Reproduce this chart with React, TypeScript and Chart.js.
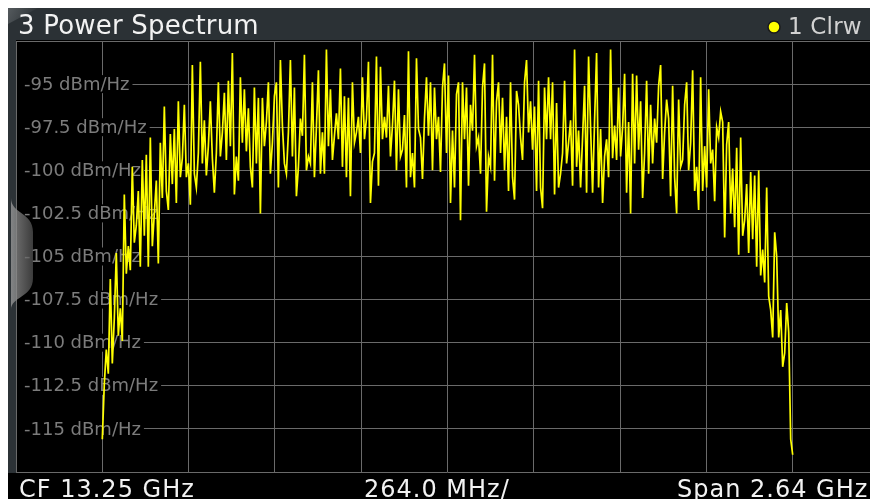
import React, { useEffect, useRef } from "react";
import { Chart, registerables } from "chart.js";

Chart.register(...registerables);

const TITLE = "3 Power Spectrum";
const TRACE_LABEL = "1 Clrw";
const FOOTER_LEFT = "CF 13.25 GHz";
const FOOTER_MID = "264.0 MHz/";
const FOOTER_RIGHT = "Span 2.64 GHz";

// frequency grid (GHz): CF 13.25, 264 MHz/div, span 2.64 GHz
const X_MIN = 11.93;
const X_MAX = 14.57;
const X_TICKS = [11.93, 12.194, 12.458, 12.722, 12.986, 13.25, 13.514, 13.778, 14.042, 14.306, 14.57];

// level grid (dBm/Hz)
const Y_MIN = -117.5;
const Y_MAX = -92.5;
const Y_TICKS = [-92.5, -95, -97.5, -100, -102.5, -105, -107.5, -110, -112.5, -115, -117.5];
const Y_LABEL_VALUES = [-95, -97.5, -100, -102.5, -105, -107.5, -110, -112.5, -115];
const Y_LABELS = [
  "-95 dBm/Hz",
  "-97.5 dBm/Hz",
  "-100 dBm/Hz",
  "-102.5 dBm/Hz",
  "-105 dBm/Hz",
  "-107.5 dBm/Hz",
  "-110 dBm/Hz",
  "-112.5 dBm/Hz",
  "-115 dBm/Hz",
];

// visible trace sweep points
const TRACE_START_GHZ = 12.194;
const TRACE_STEP_GHZ = 0.0061217;
const LEVELS = [
  -115.6, -112.4, -110.4, -111.8, -106.3, -111.2, -108.6, -104.8, -109.6, -108.0,
  -109.9, -101.4, -106.0, -104.4, -105.8, -99.8, -104.2, -103.2, -101.2, -105.6,
  -99.4, -103.8, -99.1, -105.6, -98.1, -104.4, -102.5, -100.6, -105.4, -98.4,
  -101.6, -96.3, -101.2, -102.3, -97.9, -100.8, -97.6, -101.9, -96.0, -100.4,
  -99.3, -96.2, -100.4, -99.6, -102.0, -93.9, -100.2, -101.0, -99.0, -93.7,
  -99.6, -97.1, -100.3, -98.6, -96.0, -99.3, -101.3, -99.0, -94.9, -99.2,
  -97.8, -95.5, -99.4, -94.8, -98.6, -93.2, -101.4, -99.2, -100.6, -94.6,
  -98.4, -95.3, -98.9, -96.4, -99.8, -101.0, -95.2, -99.6, -95.8, -102.5,
  -95.8, -98.6, -97.2, -94.9, -100.2, -98.4, -95.7, -94.9, -101.0, -93.6,
  -97.4, -99.6, -100.2, -97.8, -93.6, -99.2, -95.2, -101.5, -99.8, -97.0,
  -98.0, -93.3, -100.0, -99.2, -99.6, -94.9, -100.4, -97.5, -94.2, -100.2,
  -97.8, -100.2, -93.0, -98.6, -95.3, -99.4, -98.0, -96.7, -98.2, -94.1,
  -99.8, -95.7, -100.4, -95.8, -101.5, -94.9, -98.4, -97.8, -96.9, -99.0,
  -94.6, -98.2, -97.0, -93.7, -101.9, -99.5, -99.0, -93.4, -100.9, -94.0,
  -98.2, -96.9, -98.1, -95.1, -99.2, -97.4, -94.8, -100.0, -95.3, -99.2,
  -98.8, -96.8, -101.0, -93.1, -100.4, -99.0, -101.0, -93.5, -97.6, -98.1,
  -100.5, -97.0, -94.6, -98.0, -94.9, -100.0, -95.2, -98.2, -96.9, -100.1,
  -95.2, -93.8, -99.0, -94.5, -101.9, -97.7, -101.0, -95.6, -94.9, -102.9,
  -94.9, -98.2, -95.2, -100.9, -96.2, -97.7, -93.3, -98.6, -98.1, -100.2,
  -95.2, -93.8, -102.4, -99.2, -99.8, -93.3, -100.6, -96.0, -94.9, -99.0,
  -95.8, -100.0, -96.9, -101.2, -94.9, -100.4, -101.7, -95.4, -96.2, -98.1,
  -99.4, -94.9, -93.6, -97.8, -96.0, -98.8, -96.3, -101.2, -94.8, -101.0,
  -102.2, -95.2, -98.2, -94.6, -98.2, -94.9, -101.4, -96.1, -101.0, -100.2,
  -99.0, -94.8, -99.6, -98.4, -97.1, -100.9, -93.0, -99.8, -97.7, -101.0,
  -98.1, -95.1, -101.3, -93.4, -97.5, -101.3, -97.1, -93.2, -101.0, -97.6,
  -101.9, -99.2, -98.2, -100.4, -93.0, -99.3, -97.4, -99.4, -95.2, -99.2,
  -97.5, -94.4, -101.3, -97.2, -102.5, -94.4, -99.6, -94.5, -98.8, -96.0,
  -101.6, -99.0, -94.8, -100.2, -96.2, -99.6, -97.0, -98.4, -95.1, -93.9,
  -100.5, -97.8, -95.9, -97.0, -101.5, -95.1, -100.4, -102.5, -95.9, -99.8,
  -99.4, -96.2, -94.9, -100.0, -98.4, -94.2, -101.2, -99.8, -102.3, -94.6,
  -101.2, -98.6, -101.0, -95.3, -99.6, -98.8, -101.8, -97.5, -98.1, -96.6,
  -97.2, -103.9, -98.5, -97.2, -102.5, -99.9, -103.3, -98.7, -104.9, -98.1,
  -103.8, -102.9, -100.8, -104.8, -100.1, -104.0, -100.3, -105.6, -100.0, -106.1,
  -104.6, -106.5, -101.0, -107.3, -108.1, -109.7, -103.6, -105.0, -109.7, -108.1,
  -111.4, -110.6, -107.7, -109.4, -115.6, -116.5,
];

const FONT = '"DejaVu Sans", Verdana, sans-serif';

const framePlugin = {
  id: "rsFrame",
  beforeDraw(chart: any) {
    const { ctx, width, height, chartArea } = chart;
    ctx.save();
    ctx.fillStyle = "#000000";
    ctx.fillRect(0, 0, width, height);
    // left strip
    ctx.fillStyle = "#2c3236";
    ctx.fillRect(0, chartArea.top - 1, chartArea.left, chartArea.bottom - chartArea.top + 2);
    // title bar
    ctx.fillStyle = "#2b3135";
    ctx.fillRect(0, 0, width, chartArea.top - 1);
    const g = ctx.createLinearGradient(0, 0, 26, 14);
    g.addColorStop(0, "rgba(120,125,128,0.55)");
    g.addColorStop(1, "rgba(120,125,128,0)");
    ctx.fillStyle = g;
    ctx.beginPath();
    ctx.moveTo(0, 0);
    ctx.lineTo(30, 0);
    ctx.lineTo(0, 16);
    ctx.closePath();
    ctx.fill();
    ctx.restore();
  },
  beforeDatasetsDraw(chart: any) {
    const { ctx, chartArea } = chart;
    const y = chart.scales.y;
    ctx.save();
    ctx.font = `18px ${FONT}`;
    ctx.textBaseline = "middle";
    ctx.textAlign = "left";
    Y_LABEL_VALUES.forEach((v, i) => {
      const py = y.getPixelForValue(v);
      const tw = ctx.measureText(Y_LABELS[i]).width;
      ctx.fillStyle = "#000000";
      ctx.fillRect(chartArea.left + 1, py - 9, tw + 10, 18);
      ctx.fillStyle = "#7c7c7c";
      ctx.fillText(Y_LABELS[i], chartArea.left + 8, py + 1);
    });
    // side tab
    ctx.beginPath();
    ctx.moveTo(3, 190);
    ctx.bezierCurveTo(3, 206, 25, 204, 25, 224);
    ctx.lineTo(25, 270);
    ctx.bezierCurveTo(25, 290, 3, 288, 3, 302);
    ctx.closePath();
    const tg = ctx.createLinearGradient(3, 0, 25, 0);
    tg.addColorStop(0, "rgba(160,160,160,0.75)");
    tg.addColorStop(1, "rgba(80,80,80,0.75)");
    ctx.fillStyle = tg;
    ctx.fill();
    ctx.restore();
  },
  afterDraw(chart: any) {
    const { ctx, chartArea } = chart;
    ctx.save();
    ctx.textAlign = "left";
    ctx.textBaseline = "alphabetic";
    // title
    ctx.fillStyle = "#f2f2f2";
    ctx.font = `26px ${FONT}`;
    (ctx as any).letterSpacing = "0.2px";
    ctx.fillText(TITLE, 10, 26);
    // legend
    ctx.beginPath();
    ctx.arc(766, 19, 6, 0, Math.PI * 2);
    ctx.fillStyle = "#ffff00";
    ctx.fill();
    ctx.lineWidth = 1.5;
    ctx.strokeStyle = "#1a1a1a";
    ctx.stroke();
    ctx.fillStyle = "#d2d2d2";
    ctx.font = `23px ${FONT}`;
    ctx.fillText(TRACE_LABEL, 780, 26);
    // footer
    ctx.fillStyle = "#f2f2f2";
    ctx.font = `24px ${FONT}`;
    (ctx as any).letterSpacing = "1px";
    const fy = chartArea.bottom + 25;
    ctx.fillText(FOOTER_LEFT, 11, fy);
    ctx.fillText(FOOTER_MID, 356, fy);
    ctx.fillText(FOOTER_RIGHT, 669, fy);
    ctx.restore();
  },
};

export default function App() {
  const ref = useRef<HTMLCanvasElement | null>(null);

  useEffect(() => {
    document.documentElement.style.overflow = "hidden";
    document.body.style.marginRight = "-20px";
    const canvas = ref.current;
    if (!canvas) return;
    const data = LEVELS.map((v, i) => ({ x: TRACE_START_GHZ + i * TRACE_STEP_GHZ, y: v }));
    const chart = new Chart(canvas, {
      type: "line",
      data: {
        datasets: [
          {
            label: TRACE_LABEL,
            data,
            borderColor: "#ffff00",
            borderWidth: 1.7,
            pointRadius: 0,
            tension: 0,
            fill: false,
          },
        ],
      },
      options: {
        responsive: false,
        animation: false,
        devicePixelRatio: 1,
        layout: { padding: { left: 8, top: 33, right: 9, bottom: 36 } },
        plugins: { legend: { display: false }, tooltip: { enabled: false } },
        events: [],
        scales: {
          x: {
            type: "linear",
            min: X_MIN,
            max: X_MAX,
            afterBuildTicks: (s: any) => {
              s.ticks = X_TICKS.map((v) => ({ value: v }));
            },
            ticks: { display: false },
            grid: { color: "#6a6a6a", lineWidth: 1, drawTicks: false },
            border: { display: false },
          },
          y: {
            type: "linear",
            min: Y_MIN,
            max: Y_MAX,
            afterBuildTicks: (s: any) => {
              s.ticks = Y_TICKS.map((v) => ({ value: v }));
            },
            ticks: { display: false },
            grid: { color: "#6a6a6a", lineWidth: 1, drawTicks: false },
            border: { display: false },
          },
        },
      } as any,
      plugins: [framePlugin],
    });
    return () => chart.destroy();
  }, []);

  return (
    <div style={{ width: 880, height: 500 }}>
      <canvas ref={ref} width={880} height={500} style={{ display: "block" }} />
    </div>
  );
}
